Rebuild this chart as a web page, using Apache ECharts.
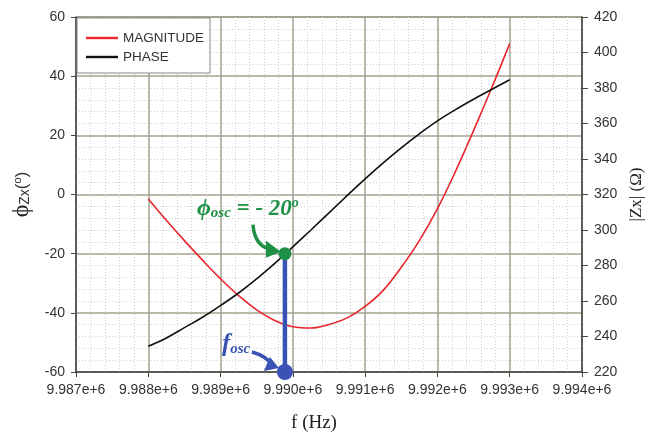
<!DOCTYPE html>
<html>
<head>
<meta charset="utf-8">
<script src="https://cdn.jsdelivr.net/npm/echarts@6/dist/echarts.min.js"></script>
<style>
  html, body { margin: 0; padding: 0; background: #fff; }
  #chart { width: 658px; height: 432px; }
</style>
</head>
<body>
<div id="chart"></div>
<script>
// frequency samples (Hz)
var freqHz = [9988000, 9988250, 9988500, 9988750, 9989000, 9989250, 9989500,
              9989750, 9990000, 9990250, 9990500, 9990750, 9991000, 9991250,
              9991500, 9991750, 9992000, 9992250, 9992500, 9992750, 9993000];
// |Zx| (ohm), right axis
var magnitude = [317.5, 305.5, 294.0, 283.0, 272.5, 263.0, 255.0, 249.0, 245.5, 244.8,
                 246.8, 250.5, 257.0, 266.0, 279.0, 294.0, 312.0, 333.0, 356.0, 380.0, 405.0];
// phase (deg), left axis
var phase = [-51.3, -48.5, -45.0, -41.5, -37.5, -33.3, -28.5, -23.3, -17.7, -12.0,
             -6.2, -0.4, 5.3, 10.7, 15.8, 20.5, 24.9, 28.7, 32.2, 35.5, 38.8];
// oscillation point
var foscHz = 9989890;
var phiOsc = -20;
var phaseMin = -60;

var xTicks = [9987000, 9994000, 1000];

var chart = echarts.init(document.getElementById('chart'));

function pairs(xs, ys) {
    return xs.map(function (x, i) { return [x, ys[i]]; });
}

var gridColor = '#a3a28e';
var minorStyle = { color: '#d0d0d0', type: [1, 2], width: 1 };
var labelFont = { color: '#333', fontSize: 14, fontFamily: 'Liberation Sans, Arial, sans-serif' };
var lineIcon = 'path://M0,0L32,0L32,2.4L0,2.4Z';

var option = {
    animation: false,
    backgroundColor: '#fff',
    grid: { left: 76, right: 76, top: 17, bottom: 60, outerBoundsMode: 'none', show: true, borderColor: '#444', borderWidth: 1 },
    legend: {
        data: [{ name: 'MAGNITUDE', icon: lineIcon }, { name: 'PHASE', icon: lineIcon }],
        orient: 'vertical',
        left: 77, top: 18,
        padding: [13, 6, 9, 9],
        itemWidth: 32, itemHeight: 14, itemGap: 5,
        backgroundColor: '#fff',
        borderColor: '#888', borderWidth: 1,
        textStyle: { color: '#333', fontSize: 13.5, fontFamily: 'Liberation Sans, Arial, sans-serif' }
    },
    xAxis: {
        type: 'value',
        min: xTicks[0], max: xTicks[1], interval: xTicks[2],
        name: 'f (Hz)',
        nameLocation: 'middle',
        nameGap: 42,
        nameTextStyle: { color: '#222', fontSize: 19, fontFamily: 'Liberation Serif, Times New Roman, serif', padding: [0, 30, 0, 0] },
        axisLine: { onZero: false, lineStyle: { color: '#444', width: 1.5 } },
        axisTick: { show: true, length: 5, lineStyle: { color: '#444' } },
        axisLabel: Object.assign({ margin: 11, formatter: function (v) { return (v / 1e6).toFixed(3) + 'e+6'; } }, labelFont),
        splitLine: { show: true, lineStyle: { color: gridColor, width: 1.5 } },
        minorTick: { show: false, splitNumber: 5 },
        minorSplitLine: { show: true, lineStyle: minorStyle }
    },
    yAxis: [{
        type: 'value',
        min: -60, max: 60, interval: 20,
        name: '{p|ϕ}{s|Zx}{n|(}{u|o}{n|)}',
        nameLocation: 'middle',
        nameRotate: 90,
        nameGap: 42,
        nameTextStyle: {
            color: '#222',
            rich: {
                p: { fontSize: 24, fontFamily: 'Liberation Serif, DejaVu Serif, serif', color: '#222' },
                s: { fontSize: 14, fontFamily: 'Liberation Sans, sans-serif', color: '#333', padding: [6, 0, 0, 0] },
                n: { fontSize: 17, fontFamily: 'Liberation Sans, sans-serif', color: '#333' },
                u: { fontSize: 11, fontFamily: 'Liberation Sans, sans-serif', color: '#333', padding: [0, 0, 8, 0] }
            }
        },
        axisLine: { show: true, onZero: false, lineStyle: { color: '#444', width: 1.5 } },
        axisTick: { show: true, length: 5, lineStyle: { color: '#444' } },
        axisLabel: Object.assign({ margin: 11 }, labelFont),
        splitLine: { show: true, lineStyle: { color: gridColor, width: 1.5 } },
        minorTick: { show: false, splitNumber: 5 },
        minorSplitLine: { show: true, lineStyle: minorStyle }
    }, {
        type: 'value',
        min: 220, max: 420, interval: 20,
        position: 'right',
        name: '|Zx| (Ω)',
        nameLocation: 'middle',
        nameRotate: 90,
        nameGap: 42,
        nameTextStyle: { color: '#222', fontSize: 17, fontFamily: 'Liberation Serif, Times New Roman, serif' },
        axisLine: { show: true, onZero: false, lineStyle: { color: '#444', width: 1.5 } },
        axisTick: { show: true, length: 6, lineStyle: { color: '#444' } },
        axisLabel: Object.assign({ margin: 12 }, labelFont),
        splitLine: { show: false }
    }],
    series: [{
        name: 'MAGNITUDE',
        type: 'line',
        yAxisIndex: 1,
        smooth: 0.4,
        symbol: 'none',
        color: '#e8262b',
        lineStyle: { color: '#e8262b', width: 1.6 },
        data: pairs(freqHz, magnitude)
    }, {
        name: 'PHASE',
        type: 'line',
        yAxisIndex: 0,
        smooth: 0.4,
        symbol: 'none',
        color: '#111',
        lineStyle: { color: '#111', width: 1.6 },
        data: pairs(freqHz, phase)
    }, {
        name: 'fosc',
        type: 'line',
        yAxisIndex: 0,
        symbol: 'circle',
        z: 5,
        lineStyle: { color: '#3a52b4', width: 4.5 },
        data: [
            { value: [foscHz, phaseMin], symbolSize: 16, itemStyle: { color: '#3a52b4' } },
            { value: [foscHz, phiOsc], symbolSize: 13, itemStyle: { color: '#1e9147' } }
        ]
    }]
};

chart.setOption(option);

// annotations placed relative to the oscillation points
var ptPhi = chart.convertToPixel({ xAxisIndex: 0, yAxisIndex: 0 }, [foscHz, phiOsc]);
var ptF = chart.convertToPixel({ xAxisIndex: 0, yAxisIndex: 0 }, [foscHz, phaseMin]);
var green = '#1e9147', blue = '#3a52b4';
var serifBI = { fontFamily: 'Liberation Serif, DejaVu Serif, serif', fontStyle: 'italic', fontWeight: 'bold' };

function arrow(p, color, c) {
    return [{
        type: 'bezierCurve',
        shape: { x1: p[0] + c[0], y1: p[1] + c[1], cpx1: p[0] + c[2], cpy1: p[1] + c[3], x2: p[0] + c[4], y2: p[1] + c[5] },
        style: { stroke: color, lineWidth: 3.5, fill: null },
        z: 20
    }, {
        type: 'polygon',
        shape: { points: c[6].map(function (q) { return [p[0] + q[0], p[1] + q[1]]; }) },
        style: { fill: color },
        z: 20
    }];
}

var graphics = [{
    type: 'text',
    x: ptPhi[0] - 88, y: ptPhi[1] - 45,
    style: {
        text: '{p|ϕ}{s|osc}{m| = - 20}{u|o}',
        verticalAlign: 'middle',
        rich: {
            p: Object.assign({ fontSize: 24, fill: green }, serifBI),
            s: Object.assign({ fontSize: 15, fill: green, padding: [8, 0, 0, 0] }, serifBI),
            m: Object.assign({ fontSize: 23, fill: green }, serifBI),
            u: Object.assign({ fontSize: 14, fill: green, padding: [0, 0, 10, 0] }, serifBI)
        }
    },
    z: 20
}, {
    type: 'text',
    x: ptF[0] - 63, y: ptF[1] - 27,
    style: {
        text: '{p|f}{s|osc}',
        verticalAlign: 'middle',
        rich: {
            p: Object.assign({ fontSize: 25, fill: blue }, serifBI),
            s: Object.assign({ fontSize: 15, fill: blue, padding: [8, 0, 0, 0] }, serifBI)
        }
    },
    z: 20
}];

graphics = graphics.concat(
    arrow(ptPhi, green, [-32, -29, -30, -6, -12, -4, [[-19, -13], [-4, -2], [-19, 4]]]),
    arrow(ptF, blue, [-33, -20, -18, -16, -12, -6, [[-21, -1], [-6, -4], [-15, -15]]])
);

chart.setOption({ graphic: graphics });
</script>
</body>
</html>
